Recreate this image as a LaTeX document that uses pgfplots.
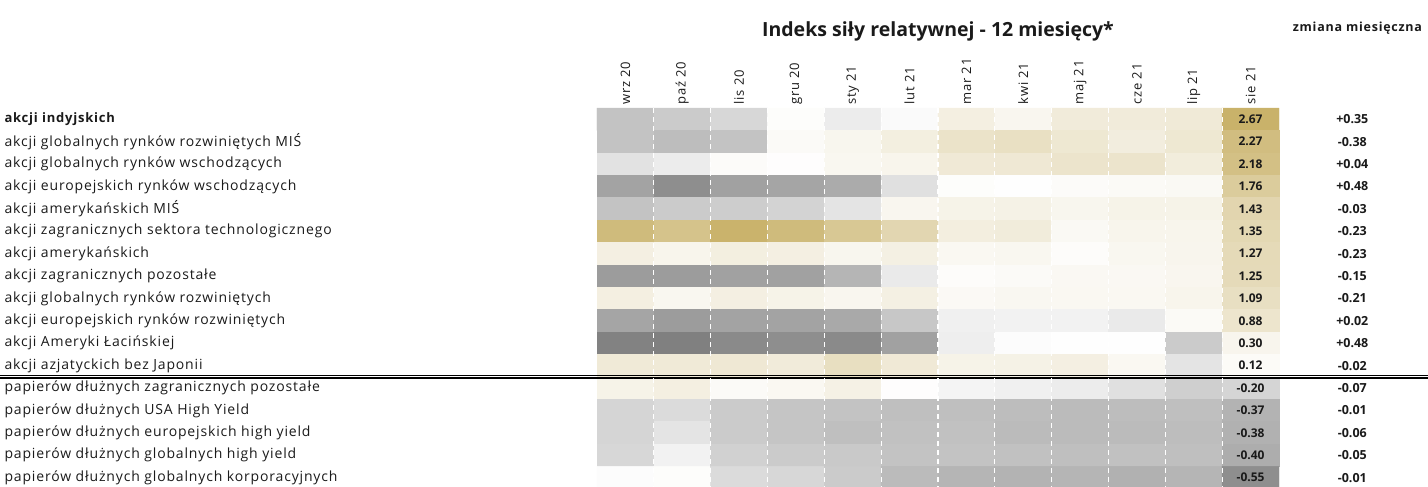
\documentclass[border=0pt]{standalone}
\usepackage{fontspec}
\setmainfont{Open Sans}
\newfontfamily\lbl{Open Sans}[LetterSpace=6]
\newfontfamily\hdr{Open Sans}[LetterSpace=6]
\usepackage{pgfplots}
\pgfplotsset{compat=1.18}
\definecolor{txt}{HTML}{1A1A1A}

\begin{document}
\begin{tikzpicture}[x=1pt,y=1pt]
\path[use as bounding box] (0,0) rectangle (1428,-487);
\begin{axis}[
  at={(597pt,-108pt)}, anchor=north west,
  scale only axis, width=682pt, height=380.8pt,
  xmin=-0.5, xmax=11.5, ymin=-0.5, ymax=16.5,
  y dir=reverse,
  axis line style={draw=none},
  major tick length=0pt, minor tick length=0pt,
  xtick={0,...,11},
  xticklabels={wrz 20,paź 20,lis 20,gru 20,sty 21,lut 21,mar 21,kwi 21,maj 21,cze 21,lip 21,sie 21},
  xticklabel pos=upper,
  xticklabel style={rotate=90, anchor=west, font=\lbl\fontsize{13}{13}\selectfont, text=txt},
  ytick={0,...,16},
  yticklabels={
    {\fontsize{13}{13}\selectfont\bfseries akcji indyjskich},
    akcji globalnych rynków rozwiniętych MIŚ,
    akcji globalnych rynków wschodzących,
    akcji europejskich rynków wschodzących,
    akcji amerykańskich MIŚ,
    akcji zagranicznych sektora technologicznego,
    akcji amerykańskich,
    akcji zagranicznych pozostałe,
    akcji globalnych rynków rozwiniętych,
    akcji europejskich rynków rozwiniętych,
    akcji Ameryki Łacińskiej,
    akcji azjatyckich bez Japonii,
    papierów dłużnych zagranicznych pozostałe,
    papierów dłużnych USA High Yield,
    papierów dłużnych europejskich high yield,
    papierów dłużnych globalnych high yield,
    papierów dłużnych globalnych korporacyjnych},
  yticklabel style={anchor=west, xshift=-596pt, font=\lbl\fontsize{14}{14}\selectfont, text=txt},
  minor xtick={0.5,1.5,...,10.5},
  xminorgrids,
  minor grid style={white, line width=1.2pt, dash pattern=on 5pt off 4pt},
  axis on top,
  clip=false,
  colormap={rsi}{rgb255(0pt)=(128,128,128) rgb255(62pt)=(254,254,254) rgb255(329pt)=(201,178,106)},
  point meta min=-0.62, point meta max=2.67,
]
% indeks sily relatywnej, wiersz = kategoria, kolumna = miesiac
\addplot[matrix plot*, mesh/cols=12, mesh/rows=17, point meta=explicit] coordinates {
(0,0)[-0.29] (1,0)[-0.25] (2,0)[-0.19] (3,0)[0.05] (4,0)[-0.09] (5,0)[-0.02] (6,0)[0.52] (7,0)[0.27] (8,0)[0.65] (9,0)[0.65] (10,0)[0.70] (11,0)[2.67]

(0,1)[-0.29] (1,1)[-0.32] (2,1)[-0.29] (3,1)[0.13] (4,1)[0.29] (5,1)[0.54] (6,1)[0.96] (7,1)[1.06] (8,1)[0.79] (9,1)[0.58] (10,1)[0.79] (11,1)[2.27]

(0,2)[-0.14] (1,2)[-0.09] (2,2)[0.09] (3,2)[0.02] (4,2)[0.25] (5,2)[0.32] (6,2)[0.72] (7,2)[0.76] (8,2)[0.90] (9,2)[0.90] (10,2)[0.61] (11,2)[2.18]

(0,3)[-0.45] (1,3)[-0.55] (2,3)[-0.46] (3,3)[-0.44] (4,3)[-0.41] (5,3)[-0.15] (6,3)[0.05] (7,3)[0.00] (8,3)[0.09] (9,3)[0.14] (10,3)[0.18] (11,3)[1.76]

(0,4)[-0.29] (1,4)[-0.25] (2,4)[-0.24] (3,4)[-0.21] (4,4)[-0.13] (5,4)[0.27] (6,4)[0.40] (7,4)[0.43] (8,4)[0.29] (9,4)[0.40] (10,4)[0.40] (11,4)[1.43]

(0,5)[2.35] (1,5)[2.07] (2,5)[2.63] (3,5)[2.35] (4,5)[1.91] (5,5)[1.39] (6,5)[0.56] (7,5)[0.63] (8,5)[0.18] (9,5)[0.32] (10,5)[0.32] (11,5)[1.35]

(0,6)[0.51] (1,6)[0.32] (2,6)[0.54] (3,6)[0.51] (4,6)[0.29] (5,6)[0.49] (6,6)[0.22] (7,6)[0.25] (8,6)[0.07] (9,6)[0.25] (10,6)[0.31] (11,6)[1.27]

(0,7)[-0.48] (1,7)[-0.48] (2,7)[-0.46] (3,7)[-0.46] (4,7)[-0.36] (5,7)[-0.10] (6,7)[0.07] (7,7)[0.13] (8,7)[0.20] (9,7)[0.20] (10,7)[0.27] (11,7)[1.25]

(0,8)[0.52] (1,8)[0.25] (2,8)[0.51] (3,8)[0.40] (4,8)[0.27] (5,8)[0.49] (6,8)[0.16] (7,8)[0.24] (8,8)[0.22] (9,8)[0.22] (10,8)[0.32] (11,8)[1.09]

(0,9)[-0.44] (1,9)[-0.48] (2,9)[-0.45] (3,9)[-0.45] (4,9)[-0.42] (5,9)[-0.27] (6,9)[-0.07] (7,9)[-0.06] (8,9)[-0.06] (9,9)[-0.10] (10,9)[0.14] (11,9)[0.88]

(0,10)[-0.61] (1,10)[-0.62] (2,10)[-0.57] (3,10)[-0.55] (4,10)[-0.57] (5,10)[-0.46] (6,10)[-0.08] (7,10)[-0.01] (8,10)[0.00] (9,10)[0.00] (10,10)[-0.25] (11,10)[0.30]

(0,11)[0.70] (1,11)[0.70] (2,11)[0.76] (3,11)[0.65] (4,11)[1.10] (5,11)[0.72] (6,11)[0.40] (7,11)[0.43] (8,11)[0.51] (9,11)[0.22] (10,11)[-0.13] (11,11)[0.12]

(0,12)[0.40] (1,12)[0.52] (2,12)[0.13] (3,12)[0.22] (4,12)[0.45] (5,12)[0.02] (6,12)[-0.05] (7,12)[-0.07] (8,12)[-0.09] (9,12)[-0.15] (10,12)[-0.23] (11,12)[-0.20]

(0,13)[-0.20] (1,13)[-0.17] (2,13)[-0.25] (3,13)[-0.28] (4,13)[-0.29] (5,13)[-0.31] (6,13)[-0.31] (7,13)[-0.32] (8,13)[-0.33] (9,13)[-0.32] (10,13)[-0.31] (11,13)[-0.37]

(0,14)[-0.20] (1,14)[-0.13] (2,14)[-0.25] (3,14)[-0.28] (4,14)[-0.31] (5,14)[-0.30] (6,14)[-0.30] (7,14)[-0.33] (8,14)[-0.33] (9,14)[-0.33] (10,14)[-0.32] (11,14)[-0.38]

(0,15)[-0.19] (1,15)[-0.06] (2,15)[-0.22] (3,15)[-0.25] (4,15)[-0.26] (5,15)[-0.29] (6,15)[-0.29] (7,15)[-0.30] (8,15)[-0.31] (9,15)[-0.30] (10,15)[-0.31] (11,15)[-0.40]

(0,16)[-0.01] (1,16)[0.05] (2,16)[-0.17] (3,16)[-0.19] (4,16)[-0.25] (5,16)[-0.33] (6,16)[-0.36] (7,16)[-0.37] (8,16)[-0.36] (9,16)[-0.38] (10,16)[-0.36] (11,16)[-0.55]
};

% wartosci w ostatniej kolumnie
\addplot[draw=none, nodes near coords, point meta=explicit symbolic,
  nodes near coords style={anchor=center, font=\bfseries\fontsize{12}{12}\selectfont, text=txt}]
coordinates {
(11,0)[2.67] (11,1)[2.27] (11,2)[2.18] (11,3)[1.76] (11,4)[1.43] (11,5)[1.35]
(11,6)[1.27] (11,7)[1.25] (11,8)[1.09] (11,9)[0.88] (11,10)[0.30] (11,11)[0.12]
(11,12)[-0.20] (11,13)[-0.37] (11,14)[-0.38] (11,15)[-0.40] (11,16)[-0.55]
};

% zmiana miesieczna
\addplot[draw=none, nodes near coords, point meta=explicit symbolic,
  nodes near coords style={anchor=center, font=\bfseries\fontsize{12.5}{12.5}\selectfont, text=txt}]
coordinates {
(12.79,0)[+0.35] (12.79,1)[-0.38] (12.79,2)[+0.04] (12.79,3)[+0.48] (12.79,4)[-0.03] (12.79,5)[-0.23]
(12.79,6)[-0.23] (12.79,7)[-0.15] (12.79,8)[-0.21] (12.79,9)[+0.02] (12.79,10)[+0.48] (12.79,11)[-0.02]
(12.79,12)[-0.07] (12.79,13)[-0.01] (12.79,14)[-0.06] (12.79,15)[-0.05] (12.79,16)[-0.01]
};

\node[font=\bfseries\fontsize{19.5}{19.5}\selectfont, text=txt] at (axis cs:5.5,-3.9) {Indeks siły relatywnej - 12 miesięcy*};
\node[font=\hdr\bfseries\fontsize{12.5}{12.5}\selectfont, text=txt] at (axis cs:12.88,-4.07) {zmiana miesięczna};

\draw[black, line width=0.9pt] ([xshift=-597pt,yshift=1.3pt]axis cs:-0.5,11.5) -- ([xshift=149pt,yshift=1.3pt]axis cs:11.5,11.5);
\draw[black, line width=2.5pt] ([xshift=-597pt,yshift=-1.4pt]axis cs:-0.5,11.5) -- ([xshift=149pt,yshift=-1.4pt]axis cs:11.5,11.5);
\end{axis}
\end{tikzpicture}
\end{document}
